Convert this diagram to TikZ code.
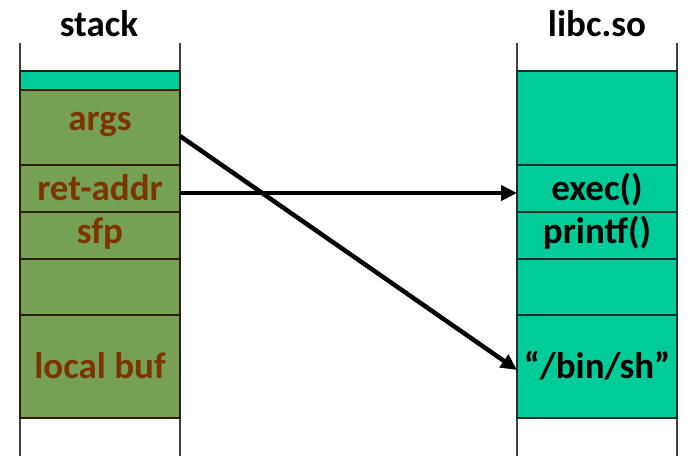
\documentclass[tikz,border=0pt]{standalone}
\usepackage{fontspec}
\setmainfont{Carlito}
\usetikzlibrary{arrows.meta}
\definecolor{stkgreen}{RGB}{118,160,84}
\definecolor{libteal}{RGB}{0,204,153}
\definecolor{lblbrown}{RGB}{124,52,0}
\definecolor{stkline}{RGB}{45,30,12}
\definecolor{libline}{RGB}{20,50,40}
\begin{document}
\begin{tikzpicture}[x=1pt,y=-1pt,
  cell/.style={rectangle, minimum width=160pt, inner sep=0pt, outer sep=0pt, line width=1.5pt},
  stkcell/.style={cell, fill=stkgreen, draw=stkline},
  stktop/.style={cell, fill=libteal, draw=stkline},
  libcell/.style={cell, fill=libteal, draw=libline},
  side/.style={draw=black!75, line width=1.5pt},
  lbl/.style={font=\fontsize{37}{42}\selectfont\bfseries, inner sep=0pt, anchor=base},
  stklbl/.style={lbl, text=lblbrown},
  liblbl/.style={lbl, text=black},
  ttl/.style={lbl, text=black},
  ptr/.style={line width=4.5pt, -{Triangle[length=16pt,width=15pt]}}
]
\useasboundingbox (0,0) rectangle (697,474);
% side rails
\coordinate (sl1) at (20,43);  \coordinate (sl2) at (20,456);
\coordinate (sr1) at (180,43); \coordinate (sr2) at (180,456);
\coordinate (ll1) at (517,43); \coordinate (ll2) at (517,456);
\coordinate (lr1) at (677,43); \coordinate (lr2) at (677,456);
\draw[side] (sl1) -- (sl2);
\draw[side] (sr1) -- (sr2);
\draw[side] (ll1) -- (ll2);
\draw[side] (lr1) -- (lr2);
% stack cells
\node[stktop, minimum height=19pt] (stop) at (100,80.5) {};
\node[stkcell, minimum height=75pt] (args) at (100,127.5) {};
\node[stkcell, minimum height=47pt] (ret) at (100,188.5) {};
\node[stkcell, minimum height=47pt] (sfp) at (100,235.5) {};
\node[stkcell, minimum height=56pt] (sblank) at (100,287) {};
\node[stkcell, minimum height=103pt] (buf) at (100,366.5) {};
% libc cells
\node[libcell, minimum height=94pt] (ltop) at (597,118) {};
\node[libcell, minimum height=47pt] (exec) at (597,188.5) {};
\node[libcell, minimum height=47pt] (printf) at (597,235.5) {};
\node[libcell, minimum height=56pt] (lblank) at (597,287) {};
\node[libcell, minimum height=103pt] (binsh) at (597,366.5) {};
% titles
\node[ttl] (tstack) at (99,36) {stack};
\node[ttl] (tlibc) at (597,36) {libc.so};
% labels
\node[stklbl] (targs) at (100,130) {args};
\node[stklbl] (tret) at (100,200) {ret-addr};
\node[stklbl] (tsfp) at (100,243) {sfp};
\node[stklbl] (tbuf) at (100,378) {local buf};
\node[liblbl] (texec) at (597,200) {exec()};
\node[liblbl] (tprintf) at (597,243) {printf()};
\node[liblbl] (tbinsh) at (597,378) {“/bin/sh”};
% pointers
\draw[ptr] ([yshift=-8.5pt]args.east) -- ([yshift=-3.5pt]binsh.west);
\draw[ptr] ([yshift=-4.5pt]ret.east) -- ([yshift=-4.5pt]exec.west);
\end{tikzpicture}
\end{document}
